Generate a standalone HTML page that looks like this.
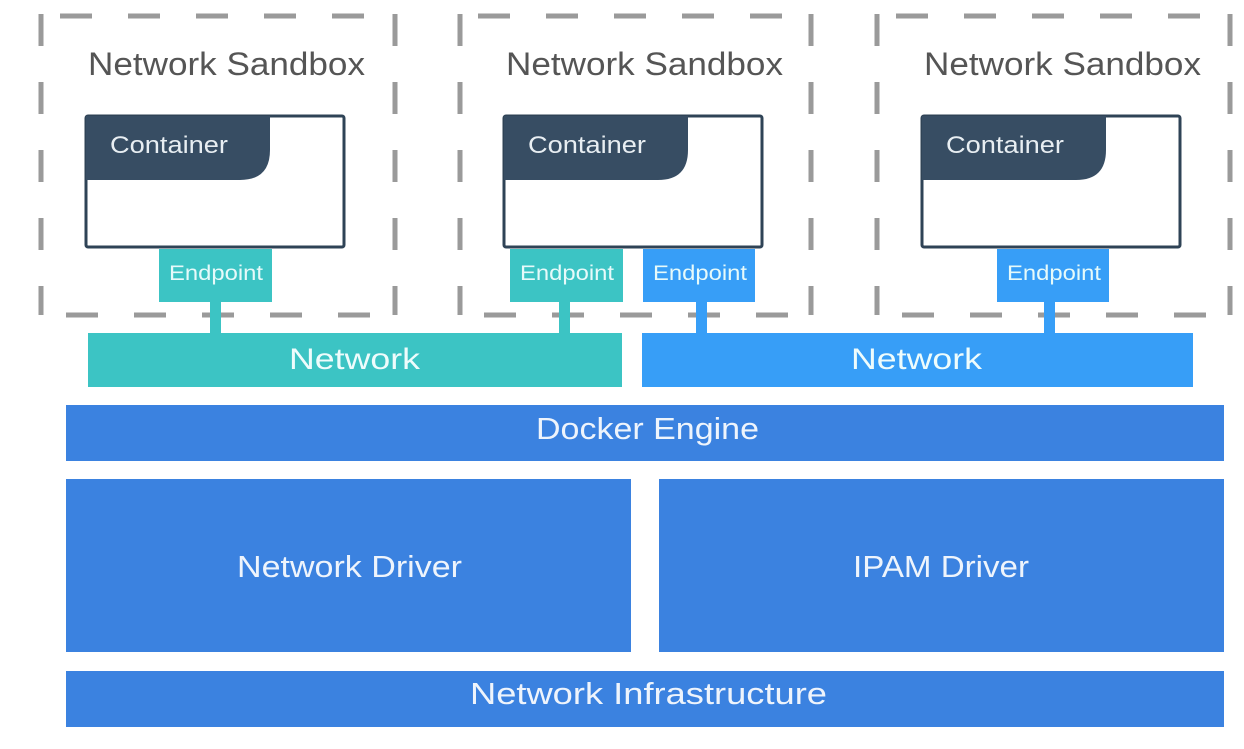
<!DOCTYPE html>
<html><head><meta charset="utf-8"><style>
html,body{margin:0;padding:0;background:#fff;}
svg{display:block;}
text{font-family:"Liberation Sans",sans-serif;}
</style></head><body>
<svg width="1244" height="749" viewBox="0 0 1244 749" xmlns="http://www.w3.org/2000/svg">
<g stroke="#9a9a9a" stroke-width="5" fill="none" stroke-dasharray="32 36">
  <line x1="60" y1="16" x2="396" y2="16"/>
  <line x1="66" y1="315" x2="396" y2="315"/>
  <line x1="41" y1="14" x2="41" y2="315"/>
  <line x1="395" y1="14" x2="395" y2="315"/>
  <line x1="478" y1="16" x2="812" y2="16"/>
  <line x1="484" y1="315" x2="812" y2="315"/>
  <line x1="460" y1="14" x2="460" y2="315"/>
  <line x1="811" y1="14" x2="811" y2="315"/>
  <line x1="896" y1="16" x2="1232" y2="16"/>
  <line x1="902" y1="315" x2="1232" y2="315"/>
  <line x1="877" y1="14" x2="877" y2="315"/>
  <line x1="1230" y1="14" x2="1230" y2="315"/>
</g>
<g font-size="32" fill="#555" lengthAdjust="spacingAndGlyphs">
  <text x="88" y="75" textLength="277" lengthAdjust="spacingAndGlyphs">Network Sandbox</text>
  <text x="506" y="75" textLength="277" lengthAdjust="spacingAndGlyphs">Network Sandbox</text>
  <text x="924" y="75" textLength="277" lengthAdjust="spacingAndGlyphs">Network Sandbox</text>
</g>
<g>
  <rect x="86" y="116" width="258" height="131" fill="#fff" stroke="#2f4356" stroke-width="3" rx="2"/>
  <path d="M86 116 H270 V150 Q270 180 240 180 H86 Z" fill="#374d63"/>
  <text x="110" y="153" font-size="24" fill="#e8eef2" textLength="118" lengthAdjust="spacingAndGlyphs">Container</text>
  <rect x="504" y="116" width="258" height="131" fill="#fff" stroke="#2f4356" stroke-width="3" rx="2"/>
  <path d="M504 116 H688 V150 Q688 180 658 180 H504 Z" fill="#374d63"/>
  <text x="528" y="153" font-size="24" fill="#e8eef2" textLength="118" lengthAdjust="spacingAndGlyphs">Container</text>
  <rect x="922" y="116" width="258" height="131" fill="#fff" stroke="#2f4356" stroke-width="3" rx="2"/>
  <path d="M922 116 H1106 V150 Q1106 180 1076 180 H922 Z" fill="#374d63"/>
  <text x="946" y="153" font-size="24" fill="#e8eef2" textLength="118" lengthAdjust="spacingAndGlyphs">Container</text>
</g>
<g font-size="21" fill="#e6fafa">
  <rect x="159" y="249" width="113" height="53" fill="#3cc4c4"/>
  <rect x="210" y="300" width="11" height="35" fill="#3cc4c4"/>
  <text x="169" y="280" textLength="94" lengthAdjust="spacingAndGlyphs">Endpoint</text>
  <rect x="510" y="249" width="113" height="53" fill="#3cc4c4"/>
  <rect x="559" y="300" width="11" height="35" fill="#3cc4c4"/>
  <text x="520" y="280" textLength="94" lengthAdjust="spacingAndGlyphs">Endpoint</text>
  <rect x="643" y="249" width="112" height="53" fill="#379ef7"/>
  <rect x="696" y="300" width="11" height="35" fill="#379ef7"/>
  <text x="653" y="280" textLength="94" lengthAdjust="spacingAndGlyphs">Endpoint</text>
  <rect x="997" y="249" width="112" height="53" fill="#379ef7"/>
  <rect x="1044" y="300" width="11" height="35" fill="#379ef7"/>
  <text x="1007" y="280" textLength="94" lengthAdjust="spacingAndGlyphs">Endpoint</text>
</g>
<rect x="88" y="333" width="534" height="54" fill="#3cc4c4"/>
<rect x="642" y="333" width="551" height="54" fill="#379ef7"/>
<g font-size="30" fill="#eefcfc">
  <text x="289" y="369" textLength="131" lengthAdjust="spacingAndGlyphs">Network</text>
  <text x="851" y="369" textLength="131" lengthAdjust="spacingAndGlyphs">Network</text>
</g>
<g fill="#3b82e0">
  <rect x="66" y="405" width="1158" height="56"/>
  <rect x="66" y="479" width="565" height="173"/>
  <rect x="659" y="479" width="565" height="173"/>
  <rect x="66" y="671" width="1158" height="56"/>
</g>
<g font-size="31" fill="#eef4fc">
  <text x="536" y="439" textLength="223" lengthAdjust="spacingAndGlyphs">Docker Engine</text>
  <text x="237" y="577" textLength="225" lengthAdjust="spacingAndGlyphs">Network Driver</text>
  <text x="853" y="577" textLength="176" lengthAdjust="spacingAndGlyphs">IPAM Driver</text>
  <text x="470" y="704" textLength="357" lengthAdjust="spacingAndGlyphs">Network Infrastructure</text>
</g>
</svg>
</body></html>
